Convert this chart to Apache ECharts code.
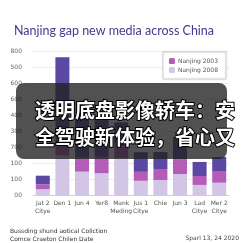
<!DOCTYPE html>
<html lang="zh-CN" style="height: 100%">
<head>
  <meta charset="utf-8">
  <script src="https://cdn.jsdelivr.net/npm/echarts@6/dist/echarts.min.js"></script>
</head>
<body style="height: 100%; margin: 0; background: #fff">
  <div id="container" style="width: 243px; height: 243px;"></div>
  <script type="text/javascript">
    // 数据
    const categories = ['Jat 2\nCitye', 'Den 1', 'Jun 4', 'Yer8', 'Mank\nMeding', 'Jus 1\nCitye', 'Chie', 'Jun 3', 'Lad\nCitye', 'Mer 2\nCitye'];
    const light2008 = [38, 250, 148, 138, 233, 91, 96, 133, 65, 79];
    const magenta2003 = [31, 60, 92, 104, 94, 56, 69, 94, 56, 69];
    const darkTop = [54, 555, 245, 230, 130, 123, 106, 138, 88, 92];
    const yTicks = ['00', '100', '100', '700', '300', '400', '600', '600', '500', '800'];
    const overlayLines = ['透明底盘影像轿车：安', '全驾驶新体验，省心又'];

    var dom = document.getElementById('container');
    var myChart = echarts.init(dom, null, { renderer: 'canvas' });

    var labelFont = 'DejaVu Sans';
    var option = {
      animation: false,
      title: {
        text: 'Nanjing gap new media across China',
        left: 9,
        top: 19,
        textStyle: { color: '#47388c', fontSize: 12.5, fontWeight: 'normal', fontFamily: 'Lato' }
      },
      legend: {
        data: ['Nanjing 2003', 'Nanjing 2008'],
        orient: 'vertical',
        right: 17,
        top: 52,
        itemWidth: 6,
        itemHeight: 6,
        itemGap: 3,
        padding: [6, 8, 6, 6],
        backgroundColor: '#fff',
        borderColor: '#d8d8d8',
        borderWidth: 1,
        shadowColor: 'rgba(0,0,0,0.15)',
        shadowBlur: 2,
        textStyle: { fontSize: 6, color: '#555', fontFamily: labelFont, padding: [0, 0, 0, -2] }
      },
      grid: { left: 33, right: 14, top: 51.7, bottom: 47.7 },
      xAxis: {
        type: 'category',
        data: categories,
        axisTick: { show: false },
        axisLine: { lineStyle: { color: '#cfcfcf' } },
        axisLabel: { fontSize: 6, lineHeight: 8, color: '#555', fontFamily: labelFont, margin: 4, interval: 0 }
      },
      yAxis: {
        type: 'value',
        min: 0,
        max: 900,
        interval: 100,
        axisLabel: {
          fontSize: 6, color: '#666', fontFamily: labelFont, margin: 11,
          formatter: function (v) { return yTicks[Math.round(v / 100)]; }
        },
        splitLine: { lineStyle: { color: '#ececec' } }
      },
      series: [
        { name: 'Nanjing 2008', type: 'bar', stack: 'a', barWidth: 14, data: light2008, itemStyle: { color: '#d2c5e6' } },
        { name: 'Nanjing 2003', type: 'bar', stack: 'a', data: magenta2003, itemStyle: { color: '#b45db8' } },
        { name: 'Other', type: 'bar', stack: 'a', data: darkTop, itemStyle: { color: '#5a48a2' } }
      ],
      graphic: [
        {
          type: 'text', left: 10, top: 227,
          style: { text: 'Bussding shund aotical Coliction\nComce Craeton Chilen Date', fontSize: 6, lineHeight: 8, fill: '#333', fontFamily: labelFont }
        },
        {
          type: 'text', right: 4, top: 235,
          style: { text: 'Sparl 13, 24 2020', fontSize: 6, fill: '#444', fontFamily: labelFont }
        },
        {
          type: 'rect', shape: { x: 16, y: 83, width: 211, height: 76, r: 8 },
          style: { fill: 'rgba(32,32,32,0.78)' }, z: 100
        },
        {
          type: 'text', x: 35, y: 110, z: 101,
          style: { text: overlayLines[0], fontSize: 20, fontWeight: 'bold', fill: '#fff', stroke: '#000', lineWidth: 2, verticalAlign: 'middle', fontFamily: 'Noto Sans CJK SC' }
        },
        {
          type: 'text', x: 35, y: 137, z: 101,
          style: { text: overlayLines[1], fontSize: 20, fontWeight: 'bold', fill: '#fff', stroke: '#000', lineWidth: 2, verticalAlign: 'middle', fontFamily: 'Noto Sans CJK SC' }
        }
      ]
    };
    myChart.setOption(option);
  </script>
</body>
</html>
